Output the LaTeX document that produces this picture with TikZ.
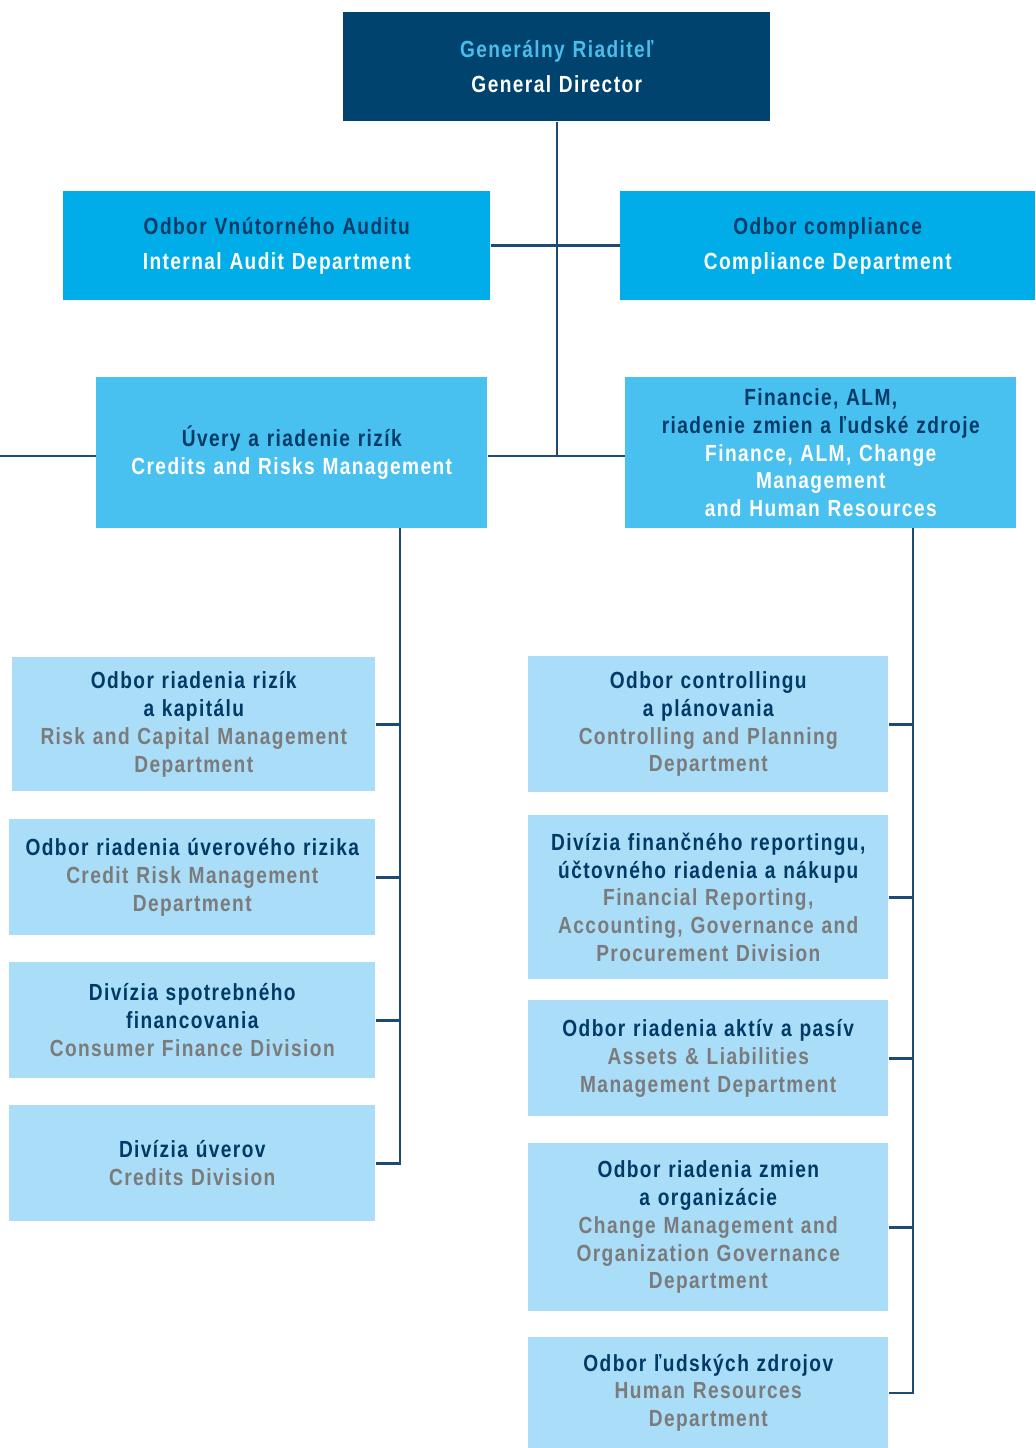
\documentclass[tikz,border=0pt]{standalone}
\usepackage{fontspec}
\newfontfamily\orgfont[FakeStretch=0.82,LetterSpace=6]{Liberation Sans}
\usepackage{xcolor}
\usepackage{tikz}
\usetikzlibrary{calc}

\definecolor{navy}{HTML}{00436F}
\definecolor{cyanbox}{HTML}{00ADE9}
\definecolor{midbox}{HTML}{48C0F0}
\definecolor{lightbox}{HTML}{A9DDF8}
\definecolor{darktext}{HTML}{003A66}
\definecolor{greytext}{HTML}{7B7B7B}
\definecolor{skytext}{HTML}{4BBDEB}
\definecolor{linecol}{HTML}{1C4A75}

\begin{document}
\begin{tikzpicture}[x=0.75pt, y=-0.75pt,
link/.style={draw=linecol, line width=1.9pt},
unit/.style={anchor=north west, inner sep=0pt, align=center, text width=#1,
  font=\orgfont\bfseries\fontsize{17.5}{20.8}\selectfont},
unit/.default=255pt,
size/.style 2 args={minimum width=0.75pt*#1, minimum height=0.75pt*#2},
top/.style={unit=300pt, font=\orgfont\bfseries\fontsize{17.5}{26.3}\selectfont},
head/.style={top, fill=navy},
staff/.style={top, fill=cyanbox},
branch/.style={unit=280pt, fill=midbox},
dept/.style={unit, fill=lightbox}]

\useasboundingbox (0,0) rectangle (1035,1448);

% TOP
\node[head, size={427}{109}] (gd) at (343,12)
  {\color{skytext}Generálny Riaditeľ\\\color{white}General Director};

% STAFF UNITS
\node[staff, size={427}{109}] (audit) at (63,191)
  {\color{darktext}Odbor Vnútorného Auditu\\\color{white}Internal Audit Department};
\node[staff, size={415}{109}] (comp) at (620,191)
  {\color{darktext}Odbor compliance\\\color{white}Compliance Department};

% BRANCHES
\node[branch, size={391}{151}] (credits) at (96,377)
  {\color{darktext}Úvery a riadenie rizík\\\color{white}Credits and Risks Management};
\node[branch, size={391}{151}] (fin) at (625,377)
  {\color{darktext}Financie, ALM,\\riadenie zmien a ľudské zdroje\\
   \color{white}Finance, ALM, Change\\Management\\and Human Resources};

% LEFT COLUMN
\node[dept, size={363}{134}] (l1) at (12,657)
  {\color{darktext}Odbor riadenia rizík\\a kapitálu\\
   \color{greytext}Risk and Capital Management\\Department};
\node[dept, size={366}{116}] (l2) at (9,819)
  {\color{darktext}Odbor riadenia úverového rizika\\
   \color{greytext}Credit Risk Management\\Department};
\node[dept, size={366}{116}] (l3) at (9,962)
  {\color{darktext}Divízia spotrebného\\financovania\\
   \color{greytext}Consumer Finance Division};
\node[dept, size={366}{116}] (l4) at (9,1105)
  {\color{darktext}Divízia úverov\\\color{greytext}Credits Division};

% RIGHT COLUMN
\node[dept, size={360}{136}] (r1) at (528,656)
  {\color{darktext}Odbor controllingu\\a plánovania\\
   \color{greytext}Controlling and Planning\\Department};
\node[dept, size={360}{164}] (r2) at (528,815)
  {\color{darktext}Divízia finančného reportingu,\\účtovného riadenia a nákupu\\
   \color{greytext}Financial Reporting,\\Accounting, Governance and\\Procurement Division};
\node[dept, size={360}{116}] (r3) at (528,1000)
  {\color{darktext}Odbor riadenia aktív a pasív\\
   \color{greytext}Assets \& Liabilities\\Management Department};
\node[dept, size={360}{168}] (r4) at (528,1143)
  {\color{darktext}Odbor riadenia zmien\\a organizácie\\
   \color{greytext}Change Management and\\Organization Governance\\Department};
\node[dept, size={360}{111}] (r5) at (528,1337)
  {\color{darktext}Odbor ľudských zdrojov\\
   \color{greytext}Human Resources\\Department};

% CONNECTORS
\coordinate (offl) at (0,456);
\coordinate (lbus) at (400,528);
\coordinate (rbus) at (913,528);

\draw[link] (gd.south) -- (gd.south |- offl);
\draw[link] (audit.east) -- (comp.west);
\draw[link] (credits.east |- offl) -- (fin.west |- offl);
\draw[link] (offl) -- (offl -| credits.west);

\draw[link] (lbus) -- (lbus |- l4.east) -- (l4.east);
\foreach \n in {l1,l2,l3}
  \draw[link] (\n.east) -- (\n.east -| lbus);

\draw[link] (rbus) -- (rbus |- r5.east) -- (r5.east);
\foreach \n in {r1,r2,r3,r4}
  \draw[link] (\n.east) -- (\n.east -| rbus);

\end{tikzpicture}
\end{document}
